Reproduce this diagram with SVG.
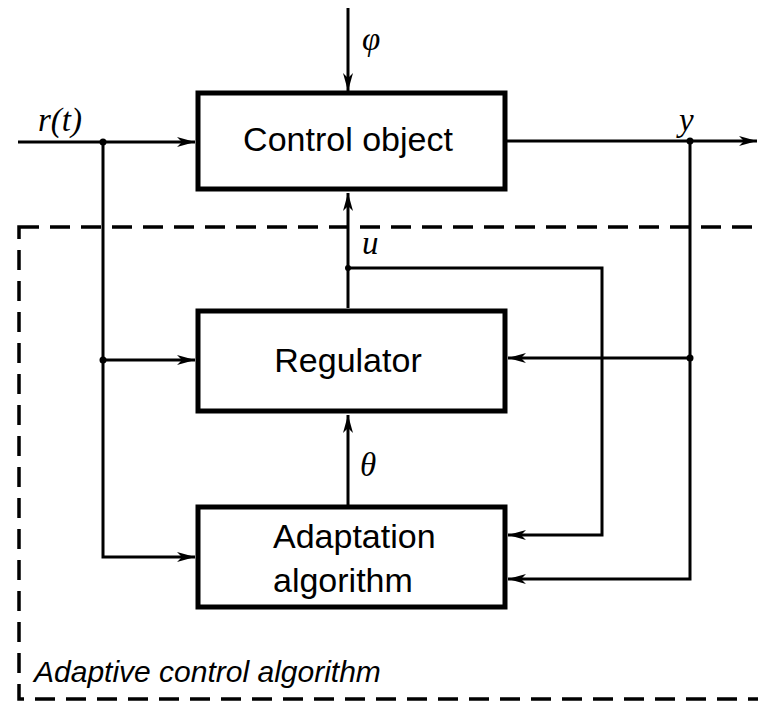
<svg xmlns="http://www.w3.org/2000/svg" width="758" height="702" viewBox="0 0 758 702">
<defs>
<style>
.box{fill:#fff;stroke:#000;stroke-width:5}
.ln{fill:none;stroke:#000;stroke-width:3}
.dash{fill:none;stroke:#000;stroke-width:3.5;stroke-dasharray:20 11}
.t{font-family:"Liberation Sans",Arial,sans-serif;font-size:34px;fill:#000}
.it{font-family:"Liberation Sans",Arial,sans-serif;font-size:30px;font-style:italic;fill:#000}
.sym{font-family:"Liberation Serif","Times New Roman",serif;font-size:33px;font-style:italic;fill:#000}
</style>
<marker id="arr" viewBox="0 0 18 12" refX="18" refY="6" markerWidth="18" markerHeight="12" markerUnits="userSpaceOnUse" orient="auto">
<path d="M0,1 L18,6 L0,11 L5,6 Z" fill="#000"/>
</marker>
</defs>
<rect width="758" height="702" fill="#fff"/>
<g id="frame">
<path class="dash" d="M19,227 H762 V699 H19 Z"/>
<text class="it" x="34" y="682">Adaptive control algorithm</text>
</g>
<g id="connectors">
<line class="ln" x1="18" y1="142" x2="195" y2="142" marker-end="url(#arr)"/>
<line class="ln" x1="348" y1="8" x2="348" y2="91" marker-end="url(#arr)"/>
<line class="ln" x1="507" y1="141" x2="757" y2="141" marker-end="url(#arr)"/>
<line class="ln" x1="348" y1="308" x2="348" y2="193" marker-end="url(#arr)"/>
<polyline class="ln" points="348,268 602,268 602,535 508,535" marker-end="url(#arr)"/>
<polyline class="ln" points="690,141 690,579 508,579" marker-end="url(#arr)"/>
<line class="ln" x1="690" y1="358" x2="508" y2="358" marker-end="url(#arr)"/>
<polyline class="ln" points="103,142 103,557 195,557" marker-end="url(#arr)"/>
<line class="ln" x1="103" y1="360" x2="195" y2="360" marker-end="url(#arr)"/>
<line class="ln" x1="348" y1="505" x2="348" y2="415" marker-end="url(#arr)"/>
<circle cx="103" cy="142" r="3.5"/>
<circle cx="103" cy="360" r="3.5"/>
<circle cx="690" cy="141" r="3.5"/>
<circle cx="690" cy="358" r="3.5"/>
<circle cx="348" cy="268" r="3"/>
<text class="sym" x="38" y="131">r(t)</text>
<text class="sym" x="362" y="50">φ</text>
<text class="sym" x="362" y="254">u</text>
<text class="sym" x="360" y="476">θ</text>
<text class="sym" x="679" y="131">y</text>
</g>
<g id="control-object">
<rect class="box" x="198" y="93" width="307" height="96"/>
<text class="t" x="348" y="151" text-anchor="middle">Control object</text>
</g>
<g id="regulator">
<rect class="box" x="198" y="311" width="307" height="100"/>
<text class="t" x="348" y="372" text-anchor="middle">Regulator</text>
</g>
<g id="adaptation-algorithm">
<rect class="box" x="198" y="507" width="307" height="100"/>
<text class="t" x="273" y="548">Adaptation</text>
<text class="t" x="273" y="592">algorithm</text>
</g>
</svg>
